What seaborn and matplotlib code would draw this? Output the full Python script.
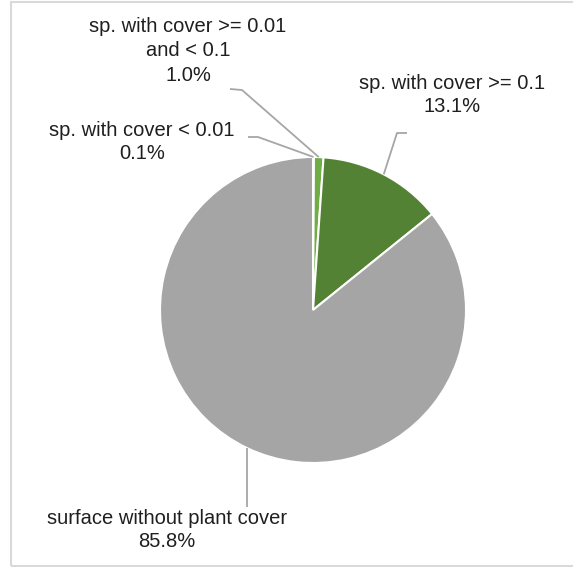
import matplotlib
matplotlib.use("Agg")
import matplotlib.pyplot as plt
from matplotlib.patches import Rectangle
import numpy as np
import seaborn as sns

# Share of the sampled surface by plant-cover class (percent)
categories = [
    "sp. with cover < 0.01",
    "sp. with cover >= 0.01\nand < 0.1",
    "sp. with cover >= 0.1",
    "surface without plant cover",
]
shares = [0.1, 1.0, 13.1, 85.8]
colors = ["#A9D18E", "#70AD47", "#548235", "#A5A5A5"]

sns.set_theme(style="white")
plt.rcParams["font.family"] = ["Liberation Sans", "DejaVu Sans"]

W, H = 573, 567
fig = plt.figure(figsize=(W / 100, H / 100), dpi=100)
ax = fig.add_axes([0, 0, 1, 1])

# one data unit == one pixel, y measured upwards
cx, cy, r = 313, H - 310, 153
wedges, _ = ax.pie(
    shares,
    colors=colors,
    startangle=90,
    counterclock=False,
    center=(cx, cy),
    radius=r,
    wedgeprops=dict(edgecolor="white", linewidth=1.5),
)
ax.set_xlim(0, W)
ax.set_ylim(0, H)
ax.set_aspect("auto")
ax.set_axis_off()

text_color = "#1F1F1F"
line_color = "#A6A6A6"

# label centres, line spacing and leader-line elbows (pixels from top-left)
label_xy = [(142, 142), (188, 51), (452, 95), (167, 530)]
spacing = [1.32, 1.36, 1.22, 1.22]
elbows = [
    [(248, 137), (258, 137)],
    [(230, 89), (242, 90)],
    [(407, 133), (397, 133)],
    [],
]

for wedge, name, share, (lx, ly), ls, elbow in zip(
        wedges, categories, shares, label_xy, spacing, elbows):
    mid = np.deg2rad((wedge.theta1 + wedge.theta2) / 2)
    ex = cx + r * np.cos(mid)
    ey = cy + r * np.sin(mid)
    if elbow:
        pts = [(x, H - y) for x, y in elbow] + [(ex, ey)]
    else:
        pts = [(ex, H - 507), (ex, ey)]
    xs, ys = zip(*pts)
    ax.plot(xs, ys, color=line_color, lw=1.3, solid_capstyle="butt", zorder=1)
    ax.text(lx, H - ly, f"{name}\n{share:.1f}%", ha="center", va="center",
            fontsize=14.5, color=text_color, linespacing=ls, multialignment="center")

# light outer frame of the chart area
ax.add_patch(Rectangle((10.5, H - 565.5), 620, 564, fill=False,
                       edgecolor="#D9D9D9", lw=1.5, clip_on=False))

fig.savefig("out.png", dpi=100)
